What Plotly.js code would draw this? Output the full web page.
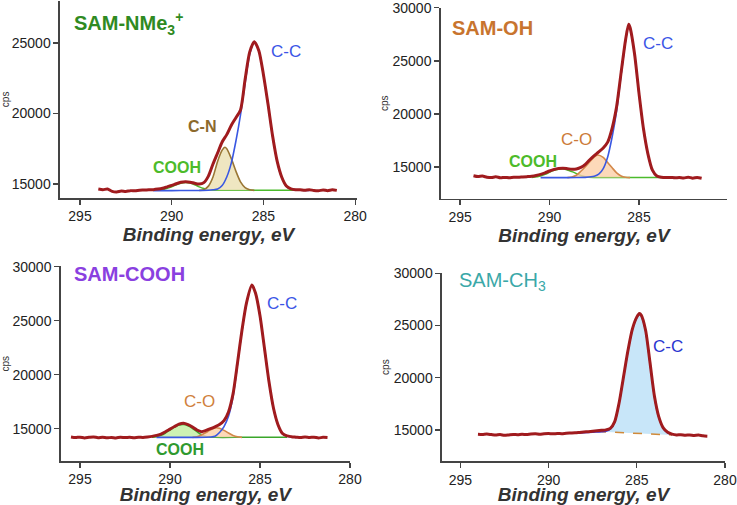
<!DOCTYPE html>
<html>
<head>
<meta charset="utf-8">
<script src="https://cdn.plot.ly/plotly-3.0.1.min.js"></script>
<style>html,body{margin:0;padding:0;background:#fff;}#chart{width:737px;height:505px;}</style>
</head>
<body>
<div id="chart"></div>
<script>
// ---------- Panel 1: SAM-NMe3+ ----------
const p1_E_env = [294.0,293.75,293.5,293.25,293.0,292.75,292.5,292.25,292.0,291.75,291.5,291.25,291.0,290.75,290.5,290.25,290.0,289.75,289.5,289.25,289.0,288.75,288.5,288.25,288.0,287.75,287.5,287.25,287.0,286.75,286.5,286.25,286.0,285.75,285.5,285.25,285.0,284.75,284.5,284.25,284.0,283.75,283.5,283.25,283.0,282.75,282.5,282.25,282.0,281.75,281.5,281.25,281.0];
const p1_env = [14650,14600,14640,14480,14440,14500,14470,14530,14520,14560,14570,14590,14600,14640,14700,14800,14900,15020,15120,15160,15130,15050,15000,15100,15560,16420,17200,17980,18500,19170,19700,20250,22400,24350,25090,24450,22750,20650,18400,16600,15480,14860,14660,14600,14600,14560,14600,14540,14520,14580,14530,14590,14550];
const p1_E_cc = [291.0,290.0,289.0,288.5,288.0,287.75,287.5,287.25,287.0,286.75,286.5,286.25,286.0,285.75,285.5,285.25,285.0,284.75,284.5,284.25,284.0,283.75,283.5,283.0,282.5];
const p1_cc = [14530,14530,14540,14545,14560,14590,14650,14900,15500,16500,18050,19900,22150,24200,25050,24430,22730,20630,18380,16580,15460,14840,14640,14560,14550];
const p1_E_cn = [288.5,288.25,288.0,287.75,287.5,287.25,287.1,287.0,286.75,286.5,286.25,286.0,285.75,285.5];
const p1_cn = [14550,14600,14850,15500,16600,17400,17600,17500,16800,15900,15150,14750,14600,14550];
const p1_E_cooh = [291.0,290.5,290.0,289.75,289.5,289.25,289.0,288.75,288.5,288.25,288.0,287.5,287.0,285.0,283.0];
const p1_cooh = [14550,14600,14800,14950,15060,15100,15070,14950,14800,14680,14600,14560,14550,14550,14550];

// ---------- Panel 2: SAM-OH ----------
const p2_E_env = [294.25,294.0,293.75,293.5,293.25,293.0,292.75,292.5,292.25,292.0,291.75,291.5,291.25,291.0,290.75,290.5,290.25,290.0,289.75,289.5,289.25,289.0,288.75,288.5,288.25,288.0,287.75,287.5,287.25,287.0,286.75,286.5,286.25,286.0,285.75,285.58,285.5,285.25,285.0,284.75,284.5,284.25,284.0,283.75,283.5,283.25,283.0,282.75,282.5,282.25,282.0,281.75,281.5];
const p2_env = [14180,14100,14140,14040,14000,14080,13980,14020,13990,14040,14030,14060,14090,14130,14200,14300,14450,14620,14760,14850,14880,14840,14790,14820,14960,15250,15680,16080,16420,16800,17350,18670,20700,23900,27000,28460,28150,25670,21940,18600,16220,14700,14150,14030,14000,14020,13980,14000,13960,14040,13950,14010,13940];
const p2_E_cc = [290.5,289.5,288.5,288.0,287.5,287.25,287.0,286.75,286.5,286.25,286.0,285.75,285.58,285.5,285.25,285.0,284.75,284.5,284.25,284.0,283.75,283.5,283.0];
const p2_cc = [14000,14000,14005,14020,14120,14320,14850,15950,17850,20300,23700,26900,28420,28100,25620,21900,18560,16180,14660,14120,14030,14000,14000];
const p2_E_co = [289.0,288.75,288.5,288.25,288.0,287.75,287.5,287.3,287.0,286.75,286.5,286.25,286.0,285.75,285.5];
const p2_co = [14000,14060,14220,14600,15030,15500,15950,16130,15900,15420,14920,14450,14150,14030,14000];
const p2_E_cooh = [291.0,290.5,290.25,290.0,289.75,289.5,289.25,289.0,288.75,288.5,288.25,288.0,287.5,287.0,285.0,283.0];
const p2_cooh = [14000,14150,14300,14500,14680,14780,14800,14720,14560,14380,14200,14080,14010,14000,14000,14000];

// ---------- Panel 3: SAM-COOH ----------
const p3_E_env = [295.5,295.25,295.0,294.75,294.5,294.25,294.0,293.75,293.5,293.25,293.0,292.75,292.5,292.25,292.0,291.75,291.5,291.25,291.0,290.75,290.5,290.25,290.0,289.75,289.5,289.25,289.0,288.75,288.5,288.25,288.0,287.75,287.5,287.25,287.0,286.75,286.5,286.25,286.0,285.75,285.45,285.25,285.0,284.75,284.5,284.25,284.0,283.75,283.5,283.25,283.0,282.75,282.5,282.25,282.0,281.75,281.5,281.25];
const p3_env = [14230,14180,14220,14150,14200,14240,14170,14210,14160,14190,14150,14210,14180,14200,14170,14210,14190,14230,14290,14380,14500,14720,14960,15200,15420,15500,15380,15160,14880,14730,14840,15000,15180,15380,15750,16550,18200,21100,24140,26650,28300,27560,25460,22420,19340,16890,15370,14560,14330,14260,14220,14180,14230,14190,14210,14150,14200,14180];
const p3_E_cc = [290.75,289.5,288.5,288.0,287.75,287.5,287.25,287.0,286.75,286.5,286.25,286.0,285.75,285.45,285.25,285.0,284.75,284.5,284.25,284.0,283.75,283.5,283.25,283.0];
const p3_cc = [14200,14200,14200,14210,14230,14300,14650,15200,16150,17950,20950,24080,26620,28280,27540,25440,22400,19320,16870,15350,14540,14300,14230,14200];
const p3_E_co = [288.75,288.5,288.25,288.0,287.75,287.5,287.25,287.0,286.75,286.5,286.25,286.0];
const p3_co = [14200,14260,14420,14650,14900,15080,15040,14850,14600,14380,14250,14200];
const p3_E_cooh = [291.0,290.75,290.5,290.25,290.0,289.75,289.5,289.25,289.0,288.75,288.5,288.25,288.0,287.75,287.5,286.0,285.0,283.5];
const p3_cooh = [14200,14250,14380,14600,14880,15150,15330,15380,15270,15020,14720,14450,14290,14220,14200,14200,14200,14200];

// ---------- Panel 4: SAM-CH3 ----------
const p4_E_env = [294.0,293.75,293.5,293.25,293.0,292.75,292.5,292.25,292.0,291.75,291.5,291.25,291.0,290.75,290.5,290.25,290.0,289.75,289.5,289.25,289.0,288.75,288.5,288.25,288.0,287.75,287.5,287.25,287.0,286.75,286.5,286.25,286.0,285.75,285.5,285.25,285.0,284.85,284.75,284.5,284.25,284.0,283.75,283.5,283.25,283.0,282.75,282.5,282.25,282.0,281.75,281.5,281.25,281.0];
const p4_env = [14580,14560,14600,14550,14500,14560,14480,14520,14560,14540,14580,14560,14600,14620,14590,14630,14650,14620,14660,14640,14680,14700,14720,14760,14800,14830,14870,14920,14960,15000,15150,15800,17600,20100,22600,24650,25800,26150,26000,24550,21450,18250,16250,15200,14780,14600,14520,14540,14490,14510,14470,14500,14430,14400];
const p4_E_bg = [287.25,287.0,286.5,286.0,285.5,285.0,284.5,284.0,283.5,283.0];
const p4_bg = [14850,14830,14800,14760,14690,14620,14570,14540,14520,14510];
const p4_E_cc = [288.5,288.0,287.5,287.0,286.75,286.5,286.25,286.0,285.75,285.5,285.25,285.0,284.85,284.75,284.5,284.25,284.0,283.75,283.5,283.25,283.0];
const p4_cc = [14680,14720,14780,14830,14880,15080,15750,17550,20050,22550,24600,25750,26100,25950,24500,21400,18200,16200,15150,14720,14540];

const xTickVals = [295, 290, 285, 280];
const yTicks1 = [15000, 20000, 25000];
const yTicks2 = [15000, 20000, 25000, 30000];

// ---------- styles ----------
const ENV = '#a01b1e', BLUE = '#3a58e2', BROWN = '#9a7634', ORANGE = '#d4884a', GREEN = '#4cbb2c';
const FONT = 'Liberation Sans, Arial, sans-serif';

function line(x, y, ax, color, width, extra) {
  return Object.assign({
    type: 'scatter', mode: 'lines', x: x, y: y,
    xaxis: 'x' + (ax === 1 ? '' : ax), yaxis: 'y' + (ax === 1 ? '' : ax),
    line: {color: color, width: width, shape: 'spline', smoothing: 0.7},
    hoverinfo: 'skip', showlegend: false
  }, extra || {});
}

const data = [
  // panel 1
  line(p1_E_cooh, p1_cooh, 1, GREEN, 1.5),
  line(p1_E_cn, p1_cn, 1, BROWN, 1.6, {fill: 'toself', fillcolor: 'rgba(236,226,182,0.85)'}),
  line(p1_E_cc, p1_cc, 1, BLUE, 1.6),
  line(p1_E_env, p1_env, 1, ENV, 3),
  // panel 2
  line(p2_E_cooh, p2_cooh, 2, GREEN, 1.5),
  line(p2_E_co, p2_co, 2, ORANGE, 1.6, {fill: 'toself', fillcolor: 'rgba(252,208,168,0.8)'}),
  line(p2_E_cc, p2_cc, 2, BLUE, 1.6),
  line(p2_E_env, p2_env, 2, ENV, 3),
  // panel 3
  line(p3_E_cooh, p3_cooh, 3, '#3aa62a', 1.5, {fill: 'toself', fillcolor: 'rgba(196,238,166,0.85)'}),
  line(p3_E_co, p3_co, 3, ORANGE, 1.6, {fill: 'toself', fillcolor: 'rgba(252,208,168,0.8)'}),
  line(p3_E_cc, p3_cc, 3, BLUE, 1.6),
  line(p3_E_env, p3_env, 3, ENV, 3),
  // panel 4
  line(p4_E_bg, p4_bg, 4, '#d08a3a', 1.5, {line: {color: '#d08a3a', width: 1.5, dash: 'dash'}}),
  line(p4_E_cc, p4_cc, 4, '#3a3ae0', 1.6, {fill: 'tonexty', fillcolor: 'rgba(190,226,248,0.85)'}),
  line(p4_E_env, p4_env, 4, ENV, 3)
];

function xax(domain, range) {
  return {
    domain: domain, range: range,
    tickvals: xTickVals, ticks: 'outside', ticklen: 5, tickwidth: 1.2, tickcolor: '#444',
    showline: true, linecolor: '#444', linewidth: 1.5, showgrid: false, zeroline: false,
    tickfont: {family: FONT, size: 14, color: '#222'}, automargin: false,
    title: {text: 'Binding energy, eV', standoff: 0,
            font: {family: FONT, size: 19, color: '#333', weight: 700, style: 'italic'}}
  };
}
function yax(domain, range, ticks) {
  return {
    domain: domain, range: range,
    tickvals: ticks, tickformat: 'd', ticks: 'outside', ticklen: 5, tickwidth: 1.2, tickcolor: '#444',
    showline: true, linecolor: '#444', linewidth: 1.5, showgrid: false, zeroline: false,
    tickfont: {family: FONT, size: 14, color: '#222'}, automargin: false,
    ticklabeloverflow: 'allow',
    title: {text: 'cps', standoff: 2, font: {family: FONT, size: 10, color: '#333'}}
  };
}

const layout = {
  width: 737, height: 505,
  margin: {l: 0, r: 0, t: 0, b: 0},
  paper_bgcolor: '#fff', plot_bgcolor: '#fff',
  font: {family: FONT},
  xaxis: Object.assign(xax([0.0814, 0.4844], [296.09, 279.9]), {anchor: 'y'}),
  yaxis: Object.assign(yax([0.6077, 0.9988], [14000, 28000], yTicks1), {anchor: 'x'}),
  xaxis2: Object.assign(xax([0.598, 0.9865], [296.08, 280.08]), {anchor: 'y2'}),
  yaxis2: Object.assign(yax([0.6063, 0.9850], [12000, 30030], yTicks2), {anchor: 'x2'}),
  xaxis3: Object.assign(xax([0.0824, 0.4749], [296.07, 280.0]), {anchor: 'y3'}),
  yaxis3: Object.assign(yax([0.0869, 0.4725], [12000, 30030], yTicks2), {anchor: 'x3'}),
  xaxis4: Object.assign(xax([0.5997, 0.9837], [296.04, 280.0]), {anchor: 'y4'}),
  yaxis4: Object.assign(yax([0.0867, 0.4594], [12000, 30030], yTicks2), {anchor: 'x4'}),
  annotations: [
    // panel titles
    {text: '<b>SAM-NMe<sub>3</sub><sup>+</sup></b>', xref: 'paper', yref: 'paper', x: 72/737, y: 1 - 23/505,
     xanchor: 'left', yanchor: 'middle', showarrow: false, font: {family: FONT, size: 20, color: '#2f8a22'}},
    {text: '<b>SAM-OH</b>', xref: 'paper', yref: 'paper', x: 450/737, y: 1 - 28/505,
     xanchor: 'left', yanchor: 'middle', showarrow: false, font: {family: FONT, size: 20, color: '#c8742e'}},
    {text: '<b>SAM-COOH</b>', xref: 'paper', yref: 'paper', x: 72/737, y: 1 - 274/505,
     xanchor: 'left', yanchor: 'middle', showarrow: false, font: {family: FONT, size: 20, color: '#8a40e0'}},
    {text: 'SAM-CH<sub>3</sub>', xref: 'paper', yref: 'paper', x: 457/737, y: 1 - 281/505,
     xanchor: 'left', yanchor: 'middle', showarrow: false, font: {family: FONT, size: 20, color: '#3aa8a8'}},
    // peak labels panel 1
    {text: 'C-C', xref: 'x', yref: 'y', x: 283.76, y: 24360, showarrow: false, font: {family: FONT, size: 17, color: '#3b55e6'}},
    {text: '<b>C-N</b>', xref: 'x', yref: 'y', x: 288.34, y: 19110, showarrow: false, font: {family: FONT, size: 16, color: '#8c6a2c'}},
    {text: '<b>COOH</b>', xref: 'x', yref: 'y', x: 289.7, y: 16200, showarrow: false, font: {family: FONT, size: 16, color: '#4cbb2a'}},
    // panel 2
    {text: 'C-C', xref: 'x2', yref: 'y2', x: 283.92, y: 26665, showarrow: false, font: {family: FONT, size: 17, color: '#3b55e6'}},
    {text: 'C-O', xref: 'x2', yref: 'y2', x: 288.5, y: 17550, showarrow: false, font: {family: FONT, size: 17, color: '#cc7a38'}},
    {text: '<b>COOH</b>', xref: 'x2', yref: 'y2', x: 290.94, y: 15500, showarrow: false, font: {family: FONT, size: 16, color: '#4cbb2a'}},
    // panel 3
    {text: 'C-C', xref: 'x3', yref: 'y3', x: 283.8, y: 26610, showarrow: false, font: {family: FONT, size: 17, color: '#3b55e6'}},
    {text: 'C-O', xref: 'x3', yref: 'y3', x: 288.36, y: 17500, showarrow: false, font: {family: FONT, size: 17, color: '#d0803c'}},
    {text: '<b>COOH</b>', xref: 'x3', yref: 'y3', x: 289.47, y: 13090, showarrow: false, font: {family: FONT, size: 16, color: '#2f9a2f'}},
    // panel 4
    {text: 'C-C', xref: 'x4', yref: 'y4', x: 283.25, y: 22980, showarrow: false, font: {family: FONT, size: 17, color: '#2a35d0'}}
  ]
};

Plotly.newPlot('chart', data, layout, {staticPlot: true, displayModeBar: false});
</script>
</body>
</html>
